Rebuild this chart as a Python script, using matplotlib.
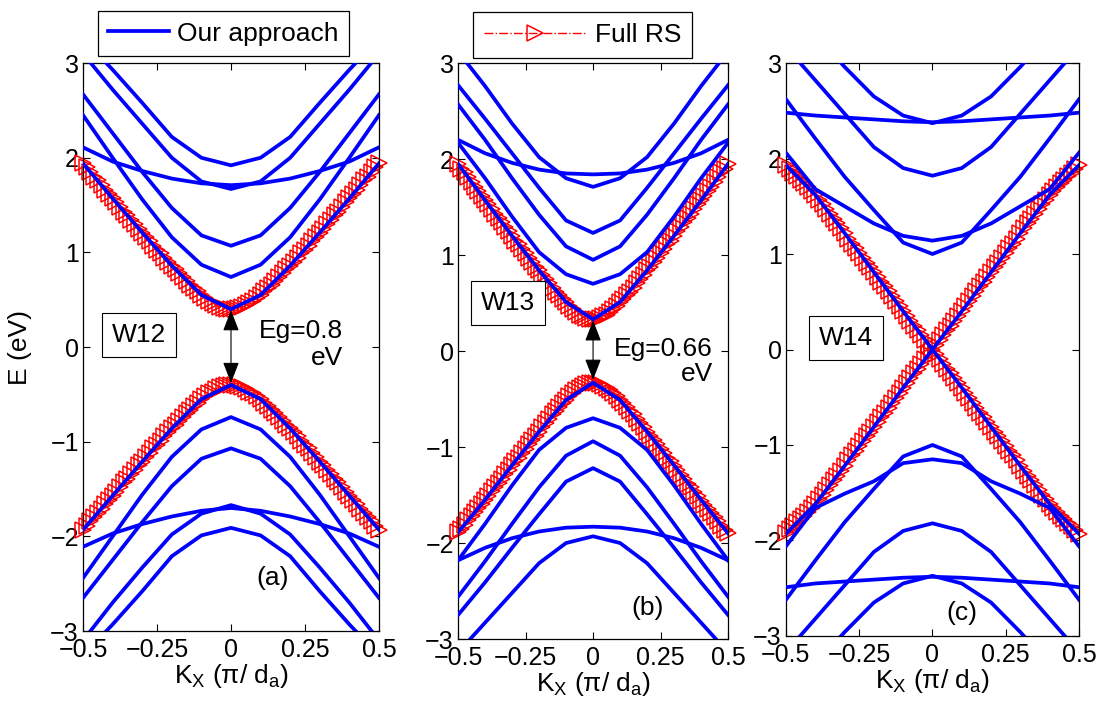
import matplotlib
matplotlib.use("Agg")
import matplotlib.pyplot as plt
from matplotlib.lines import Line2D
import numpy as np

plt.rcParams["font.family"] = ["Liberation Sans", "DejaVu Sans"]
plt.rcParams["mathtext.fontset"] = "custom"
plt.rcParams["mathtext.rm"] = "Liberation Sans"
plt.rcParams["mathtext.it"] = "Liberation Sans"

# k grid of the band solver (blue) and of the full real-space result (red)
k_coarse = [-0.5, -0.4, -0.3, -0.2, -0.1, 0.0, 0.1, 0.2, 0.3, 0.4, 0.5]
k_fine = np.linspace(-0.5, 0.5, 81)

# ---- panel (a): W12 ----
a_bands = [
    [1.94, 1.57, 1.21, 0.86, 0.55, 0.40, 0.55, 0.86, 1.21, 1.57, 1.94],
    [2.45, 2.00, 1.56, 1.16, 0.87, 0.74, 0.87, 1.16, 1.56, 2.00, 2.45],
    [2.67, 2.26, 1.85, 1.47, 1.18, 1.07, 1.18, 1.47, 1.85, 2.26, 2.67],
    [2.11, 1.96, 1.86, 1.78, 1.73, 1.71, 1.73, 1.78, 1.86, 1.96, 2.11],
    [3.10, 2.72, 2.36, 2.00, 1.75, 1.67, 1.75, 2.00, 2.36, 2.72, 3.10],
    [3.26, 2.93, 2.58, 2.22, 2.00, 1.92, 2.00, 2.22, 2.58, 2.93, 3.26],
    [-1.93, -1.57, -1.21, -0.86, -0.55, -0.40, -0.55, -0.86, -1.21, -1.57, -1.93],
    [-2.44, -2.00, -1.56, -1.16, -0.87, -0.74, -0.87, -1.16, -1.56, -2.00, -2.44],
    [-2.65, -2.25, -1.85, -1.47, -1.18, -1.07, -1.18, -1.47, -1.85, -2.25, -2.65],
    [-2.11, -1.97, -1.87, -1.79, -1.73, -1.70, -1.73, -1.79, -1.87, -1.97, -2.11],
    [-3.10, -2.70, -2.33, -1.98, -1.76, -1.67, -1.76, -1.98, -2.33, -2.70, -3.10],
    [-3.26, -2.93, -2.58, -2.21, -1.99, -1.91, -1.99, -2.21, -2.58, -2.93, -3.26],
]
a_rs_cond = [1.94, 1.90, 1.85, 1.80, 1.76, 1.71, 1.66, 1.62, 1.57, 1.53, 1.48, 1.43,
             1.39, 1.34, 1.30, 1.25, 1.21, 1.16, 1.12, 1.07, 1.03, 0.99, 0.94, 0.90,
             0.86, 0.82, 0.78, 0.74, 0.70, 0.66, 0.62, 0.59, 0.55, 0.52, 0.49, 0.47,
             0.44, 0.42, 0.41, 0.40, 0.40, 0.40, 0.41, 0.42, 0.44, 0.47, 0.49, 0.52,
             0.55, 0.59, 0.62, 0.66, 0.70, 0.74, 0.78, 0.82, 0.86, 0.90, 0.94, 0.99,
             1.03, 1.07, 1.12, 1.16, 1.21, 1.25, 1.30, 1.34, 1.39, 1.43, 1.48, 1.53,
             1.57, 1.62, 1.66, 1.71, 1.76, 1.80, 1.85, 1.90, 1.94]
a_rs_val = [-1.93, -1.89, -1.84, -1.80, -1.75, -1.71, -1.66, -1.62, -1.57, -1.53, -1.48,
            -1.43, -1.39, -1.34, -1.30, -1.25, -1.21, -1.16, -1.12, -1.07, -1.03, -0.99,
            -0.94, -0.90, -0.86, -0.82, -0.78, -0.74, -0.70, -0.66, -0.62, -0.59, -0.55,
            -0.52, -0.49, -0.47, -0.44, -0.42, -0.41, -0.40, -0.40, -0.40, -0.41, -0.42,
            -0.44, -0.47, -0.49, -0.52, -0.55, -0.59, -0.62, -0.66, -0.70, -0.74, -0.78,
            -0.82, -0.86, -0.90, -0.94, -0.99, -1.03, -1.07, -1.12, -1.16, -1.21, -1.25,
            -1.30, -1.34, -1.39, -1.43, -1.48, -1.53, -1.57, -1.62, -1.66, -1.71, -1.75,
            -1.80, -1.84, -1.89, -1.93]

# ---- panel (b): W13 ----
b_bands = [
    [1.95, 1.57, 1.20, 0.84, 0.51, 0.33, 0.51, 0.84, 1.20, 1.57, 1.95],
    [2.17, 1.80, 1.40, 1.03, 0.80, 0.70, 0.80, 1.03, 1.40, 1.80, 2.17],
    [2.57, 2.20, 1.80, 1.42, 1.09, 0.95, 1.09, 1.42, 1.80, 2.20, 2.57],
    [2.77, 2.42, 2.06, 1.70, 1.36, 1.23, 1.36, 1.70, 2.06, 2.42, 2.77],
    [2.20, 2.06, 1.96, 1.89, 1.85, 1.84, 1.85, 1.89, 1.96, 2.06, 2.20],
    [3.12, 2.76, 2.37, 2.02, 1.80, 1.71, 1.80, 2.02, 2.37, 2.76, 3.12],
    [-1.89, -1.55, -1.19, -0.84, -0.51, -0.33, -0.51, -0.84, -1.19, -1.55, -1.90],
    [-2.18, -1.80, -1.40, -1.03, -0.80, -0.70, -0.80, -1.03, -1.40, -1.80, -2.18],
    [-2.56, -2.19, -1.80, -1.42, -1.09, -0.94, -1.09, -1.42, -1.80, -2.19, -2.56],
    [-2.75, -2.41, -2.05, -1.70, -1.36, -1.22, -1.36, -1.70, -2.05, -2.41, -2.75],
    [-2.18, -2.05, -1.95, -1.88, -1.84, -1.83, -1.84, -1.88, -1.95, -2.05, -2.18],
    [-3.14, -2.83, -2.52, -2.21, -2.00, -1.93, -2.00, -2.21, -2.52, -2.83, -3.14],
]
b_rs_cond = [1.95, 1.90, 1.86, 1.81, 1.76, 1.71, 1.67, 1.62, 1.57, 1.53, 1.48, 1.43,
             1.39, 1.34, 1.29, 1.25, 1.20, 1.15, 1.11, 1.06, 1.02, 0.97, 0.93, 0.88,
             0.84, 0.79, 0.75, 0.71, 0.66, 0.62, 0.58, 0.54, 0.51, 0.47, 0.44, 0.41,
             0.38, 0.36, 0.34, 0.33, 0.33, 0.33, 0.34, 0.36, 0.38, 0.41, 0.44, 0.47,
             0.51, 0.54, 0.58, 0.62, 0.66, 0.71, 0.75, 0.79, 0.84, 0.88, 0.93, 0.97,
             1.02, 1.06, 1.11, 1.15, 1.20, 1.25, 1.29, 1.34, 1.39, 1.43, 1.48, 1.53,
             1.57, 1.62, 1.67, 1.71, 1.76, 1.81, 1.86, 1.90, 1.95]
b_rs_val = [-1.89, -1.85, -1.81, -1.76, -1.72, -1.68, -1.63, -1.59, -1.55, -1.51, -1.46,
            -1.42, -1.37, -1.33, -1.28, -1.24, -1.19, -1.15, -1.11, -1.06, -1.02, -0.97,
            -0.93, -0.88, -0.84, -0.79, -0.75, -0.71, -0.66, -0.62, -0.58, -0.54, -0.51,
            -0.47, -0.44, -0.41, -0.38, -0.36, -0.34, -0.33, -0.33, -0.33, -0.34, -0.36,
            -0.38, -0.41, -0.44, -0.47, -0.51, -0.54, -0.58, -0.62, -0.66, -0.71, -0.75,
            -0.79, -0.84, -0.88, -0.93, -0.97, -1.02, -1.06, -1.11, -1.15, -1.20, -1.24,
            -1.29, -1.33, -1.38, -1.42, -1.47, -1.51, -1.56, -1.60, -1.65, -1.69, -1.73,
            -1.77, -1.82, -1.86, -1.90]

# ---- panel (c): W14 ----
c_bands = [
    [1.93, 1.62, 1.22, 0.81, 0.40, 0.00, 0.40, 0.81, 1.22, 1.62, 1.93],
    [2.62, 2.21, 1.81, 1.46, 1.12, 1.00, 1.12, 1.46, 1.81, 2.21, 2.62],
    [2.06, 1.68, 1.50, 1.32, 1.19, 1.14, 1.19, 1.32, 1.50, 1.68, 2.06],
    [3.17, 2.82, 2.47, 2.12, 1.90, 1.82, 1.90, 2.12, 2.47, 2.82, 3.17],
    [2.48, 2.45, 2.43, 2.41, 2.39, 2.38, 2.39, 2.41, 2.43, 2.45, 2.48],
    [3.65, 3.30, 2.96, 2.65, 2.45, 2.37, 2.45, 2.65, 2.96, 3.30, 3.65],
    [-1.93, -1.62, -1.22, -0.81, -0.40, 0.00, -0.40, -0.81, -1.22, -1.62, -1.93],
    [-2.62, -2.21, -1.81, -1.46, -1.12, -1.00, -1.12, -1.46, -1.81, -2.21, -2.62],
    [-2.06, -1.66, -1.51, -1.38, -1.19, -1.15, -1.19, -1.38, -1.51, -1.66, -2.06],
    [-3.17, -2.82, -2.47, -2.12, -1.90, -1.82, -1.90, -2.12, -2.47, -2.82, -3.17],
    [-2.49, -2.45, -2.43, -2.41, -2.39, -2.38, -2.39, -2.41, -2.43, -2.45, -2.49],
    [-3.65, -3.30, -2.96, -2.65, -2.45, -2.37, -2.45, -2.65, -2.96, -3.30, -3.65],
]
c_rs_cond = [1.93, 1.89, 1.85, 1.82, 1.78, 1.74, 1.70, 1.66, 1.62, 1.57, 1.52, 1.47,
             1.42, 1.37, 1.32, 1.27, 1.22, 1.16, 1.11, 1.06, 1.01, 0.96, 0.91, 0.86,
             0.81, 0.76, 0.71, 0.66, 0.61, 0.56, 0.51, 0.46, 0.40, 0.35, 0.30, 0.25,
             0.20, 0.15, 0.10, 0.05, 0.00, 0.05, 0.10, 0.15, 0.20, 0.25, 0.30, 0.35,
             0.40, 0.46, 0.51, 0.56, 0.61, 0.66, 0.71, 0.76, 0.81, 0.86, 0.91, 0.96,
             1.01, 1.06, 1.11, 1.16, 1.22, 1.27, 1.32, 1.37, 1.42, 1.47, 1.52, 1.57,
             1.62, 1.66, 1.70, 1.74, 1.78, 1.82, 1.85, 1.89, 1.93]
c_rs_val = [-1.92, -1.88, -1.85, -1.81, -1.78, -1.74, -1.70, -1.66, -1.62, -1.57, -1.52,
            -1.47, -1.42, -1.37, -1.32, -1.27, -1.22, -1.16, -1.11, -1.06, -1.01, -0.96,
            -0.91, -0.86, -0.81, -0.76, -0.71, -0.66, -0.61, -0.56, -0.51, -0.46, -0.40,
            -0.35, -0.30, -0.25, -0.20, -0.15, -0.10, -0.05, 0.00, -0.05, -0.10, -0.15,
            -0.20, -0.25, -0.30, -0.35, -0.40, -0.46, -0.51, -0.56, -0.61, -0.66, -0.71,
            -0.76, -0.81, -0.86, -0.91, -0.96, -1.01, -1.06, -1.11, -1.16, -1.22, -1.27,
            -1.32, -1.37, -1.42, -1.47, -1.52, -1.57, -1.62, -1.66, -1.70, -1.74, -1.78,
            -1.82, -1.85, -1.89, -1.93]

x_ticks = [-0.5, -0.25, 0, 0.25, 0.5]
x_tick_labels = ["\u22120.5", "\u22120.25", "0", "0.25", "0.5"]
y_ticks = [-3, -2, -1, 0, 1, 2, 3]
y_tick_labels = ["\u22123", "\u22122", "\u22121", "0", "1", "2", "3"]

BLUE = (0, 0, 1)
RED = (1, 0, 0)

fig = plt.figure(figsize=(11, 7.09), dpi=100)
positions = [
    [0.0755, 0.110, 0.269, 0.801],
    [0.4164, 0.0987, 0.2455, 0.8124],
    [0.7145, 0.1030, 0.2664, 0.8081],
]
panels = [
    (a_bands, a_rs_cond, a_rs_val, "W12", (-0.31, 0.13), "(a)", (0.139, -2.44)),
    (b_bands, b_rs_cond, b_rs_val, "W13", (-0.315, 0.50), "(b)", (0.20, -2.68)),
    (c_bands, c_rs_cond, c_rs_val, "W14", (-0.295, 0.12), "(c)", (0.10, -2.76)),
]

axes = []
for pos, (bands, rs_c, rs_v, name, name_xy, tag, tag_xy) in zip(positions, panels):
    ax = fig.add_axes(pos)
    axes.append(ax)
    for rs in (rs_c, rs_v):
        ax.plot(k_fine, rs, linestyle="-.", color=RED, lw=1.0, marker=">",
                ms=11.5, mfc="none", mec=RED, mew=1.1, clip_on=False, zorder=2)
    for band in bands:
        ax.plot(k_coarse, band, color=BLUE, lw=2.7, zorder=3)
    ax.set_xlim(-0.5, 0.5)
    ax.set_ylim(-3, 3)
    ax.set_xticks(x_ticks)
    ax.set_xticklabels(x_tick_labels)
    ax.set_yticks(y_ticks)
    ax.set_yticklabels(y_tick_labels)
    ax.tick_params(direction="in", top=True, right=True, length=5, width=0.8,
                   labelsize=18)
    ax.tick_params(axis="x", pad=5)
    ax.tick_params(axis="y", pad=3)
    for sp in ax.spines.values():
        sp.set_linewidth(0.9)
    ax.set_xlabel(r"K$_\mathrm{X}$ ($\mathrm{\pi}$/ d$_\mathrm{a}$)", fontsize=19, labelpad=0)
    ax.text(name_xy[0], name_xy[1], name, fontsize=19, ha="center", va="center",
            zorder=5, bbox=dict(boxstyle="square,pad=0.38", fc="white", ec="black", lw=0.8))
    ax.text(tag_xy[0], tag_xy[1], tag, fontsize=19, ha="center", va="center", zorder=5)

axes[0].set_ylabel("E (eV)", fontsize=19, labelpad=13)

# band gap arrows and labels
gap_arrows = [(axes[0], 0.39, -0.38), (axes[1], 0.32, -0.30)]
for ax, top, bot in gap_arrows:
    ax.annotate("", xy=(0, top), xytext=(0, bot),
                arrowprops=dict(arrowstyle="<|-|>,head_length=0.65,head_width=0.25",
                                color="black", lw=0.8, mutation_scale=20,
                                shrinkA=0, shrinkB=0), zorder=6)
axes[0].text(0.378, 0.03, "Eg=0.8\neV", fontsize=19, ha="right", va="center",
             multialignment="right", linespacing=1.15, zorder=5)
axes[1].text(0.444, -0.105, "Eg=0.66\neV", fontsize=19, ha="right", va="center",
             multialignment="right", linespacing=1.05, zorder=5)

# legends above panels (a) and (b)
h_ours = Line2D([], [], color=BLUE, lw=2.7)
h_rs = Line2D([], [], linestyle="-.", color=RED, lw=1.0, marker=">", ms=11.5,
              mfc="none", mec=RED, mew=1.1)
leg_kw = dict(fontsize=19, fancybox=False, edgecolor="black", framealpha=1,
              borderpad=0.4, handletextpad=0.3, numpoints=1)
leg1 = fig.legend([h_ours], ["Our approach"], loc="center",
                  bbox_to_anchor=(0.2032, 0.9527), handlelength=2.3, **leg_kw)
leg1.get_frame().set_linewidth(0.9)
leg2 = fig.legend([h_rs], ["Full RS"], loc="center",
                  bbox_to_anchor=(0.5295, 0.9506), handlelength=3.9, **leg_kw)
leg2.get_frame().set_linewidth(0.9)

fig.savefig("out.png", dpi=100)
plt.close(fig)
